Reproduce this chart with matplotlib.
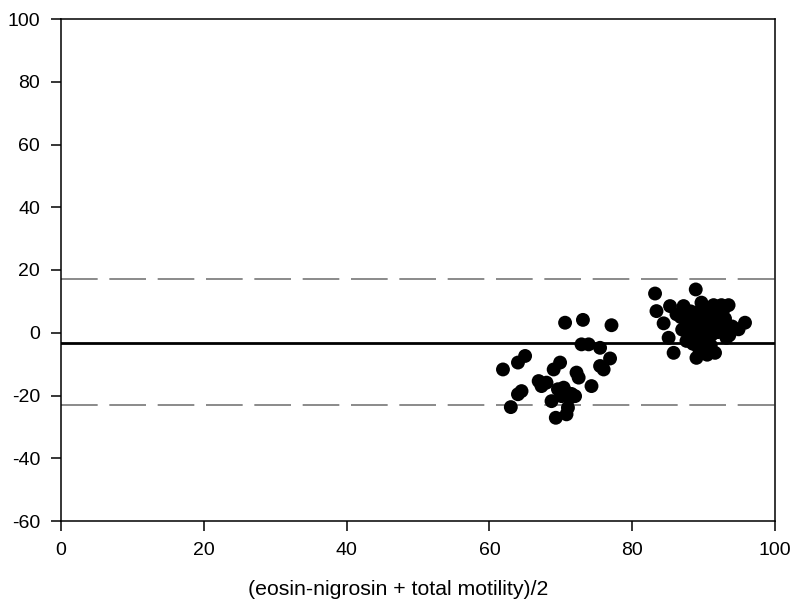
import numpy as np
import matplotlib.pyplot as plt

plt.rcParams['font.family'] = ['Liberation Sans', 'DejaVu Sans']
plt.rcParams['axes.unicode_minus'] = False

# lower cluster (x = mean of methods, y = difference)
low_x = [70.6, 73.1, 77.1, 72.9, 73.9, 75.5, 65.0, 64.0, 61.9, 76.9,
         75.5, 76.0, 69.9, 69.0, 72.2, 72.5, 66.9, 68.0, 67.3, 74.3,
         64.5, 64.0, 69.6, 70.6, 70.1, 72.0, 71.3, 68.7, 71.0, 63.0,
         70.8, 69.3, 70.4, 71.5]
low_y = [3.2, 4.1, 2.4, -3.7, -3.7, -4.8, -7.4, -9.5, -11.7, -8.2,
         -10.6, -11.7, -9.5, -11.7, -12.7, -14.3, -15.4, -15.9, -17.0, -17.0,
         -18.6, -19.6, -18.0, -18.6, -20.2, -20.2, -20.7, -21.8, -23.9, -23.7,
         -26.0, -27.1, -17.5, -19.5]

# upper cluster
high_x = [83.2, 88.9, 83.4, 85.3, 87.2, 89.7, 91.4, 92.5, 93.5, 84.4,
          86.2, 87.6, 88.6, 90.4, 95.8, 94.9, 93.2, 85.1, 87.6, 93.2,
          85.8, 89.0, 91.6, 89.3, 90.0, 89.5, 90.3, 91.0, 91.8, 92.5,
          93.0, 89.0, 90.0, 90.8, 91.5, 92.2, 89.3, 88.7, 90.2, 91.2,
          92.0, 89.8, 90.6, 88.5, 91.0, 89.6, 87.9, 88.2, 94.0, 93.6,
          90.5, 89.0, 86.8, 87.0, 88.0, 92.8]
high_y = [12.5, 13.8, 6.9, 8.5, 8.5, 9.6, 8.8, 8.8, 8.8, 3.0,
          5.9, 3.2, 4.8, 5.9, 3.2, 1.1, 2.7, -1.6, -2.6, -1.6,
          -6.4, -8.0, -6.4, -4.8, -4.2, 7.0, 7.8, 6.5, 5.0, 6.2,
          4.5, 5.5, 3.8, 2.5, 3.5, 1.8, 2.0, 0.5, 0.8, -0.5,
          0.2, -1.5, -2.8, -3.5, -4.0, -6.0, 1.5, 6.8, 2.0, -0.8,
          -7.0, -2.0, 5.0, 1.0, -1.0, 7.5]

mean_diff = -3.2
upper_limit = 17.2
lower_limit = -23.0

fig = plt.figure(figsize=(7.96, 6.03), dpi=100)
ax = fig.add_axes([61 / 796, 1 - 521 / 603, 714 / 796, 502 / 603])

ax.scatter(low_x + high_x, low_y + high_y, s=100, color='black', edgecolors='none', zorder=3)

ax.axhline(mean_diff, color='black', linewidth=2, zorder=2)
ax.axhline(upper_limit, color='#777777', linewidth=1.2, dashes=(22, 7), zorder=2)
ax.axhline(lower_limit, color='#777777', linewidth=1.2, dashes=(22, 7), zorder=2)

ax.set_xlim(0, 100)
ax.set_ylim(-60, 100)
ax.set_xticks(np.arange(0, 101, 20))
ax.set_yticks(np.arange(-60, 101, 20))

for s in ax.spines.values():
    s.set_linewidth(1.1)
ax.tick_params(direction='out', length=7, width=1.1, labelsize=14, pad=8)

ax.set_xlabel('(eosin-nigrosin + total motility)/2', fontsize=15.3)
ax.xaxis.set_label_coords(0.472, -0.118)

fig.savefig('out.png', dpi=100)
